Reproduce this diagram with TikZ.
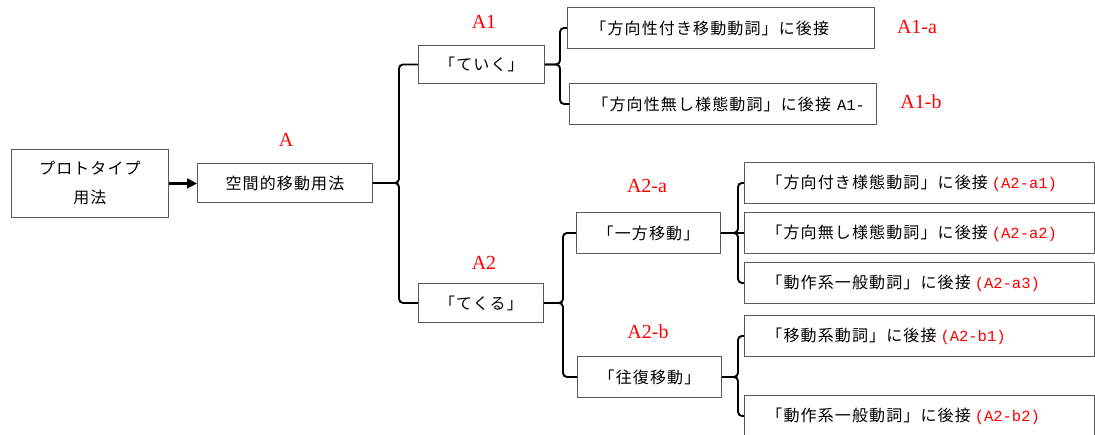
\documentclass[tikz,border=0pt]{standalone}
\usepackage{fontspec}
\setmainfont{Noto Sans CJK JP}
\newfontfamily\jpf{Noto Sans CJK JP}[LetterSpace=7]
\newfontfamily\redf{Liberation Serif}
\newfontfamily\monof{Liberation Mono}
\usetikzlibrary{arrows.meta}
\tikzset{
  box/.style={draw=black!65, line width=0.9pt, inner sep=0pt, anchor=north west,
    font=\jpf\fontsize{16}{29}\selectfont, align=center},
  lbox/.style={box, inner xsep=#1, align=left},
  brk/.style={line width=1.9pt, rounded corners=4pt},
  lab/.style={text=red, font=\redf\fontsize{20}{24}\selectfont, inner sep=0pt}
}
\newcommand{\redmono}[1]{{\monof\fontsize{15.5}{18}\selectfont\color{red}#1}}
\newcommand{\blkmono}[1]{{\monof\fontsize{15.5}{18}\selectfont #1}}
\begin{document}
\begin{tikzpicture}[x=1pt,y=-1pt]
\useasboundingbox (0,0) rectangle (1095,434);
\clip (0,0) rectangle (1095,434);
% nodes
\node[box, minimum width=157pt, minimum height=68pt] (p) at (11,149) {\raisebox{-4pt}{\parbox{150pt}{\centering プロトタイプ\\用法}}};
\node[box, minimum width=175pt, minimum height=39pt] (k) at (197,163) {空間的移動用法};
\node[box, minimum width=126pt, minimum height=38pt] (t1) at (418,45) {「ていく」};
\node[box, minimum width=125pt, minimum height=39pt] (t2) at (418,283) {「てくる」};
\node[lbox=23pt, text width=261pt, minimum height=41pt] (a) at (567,7) {\mbox{「方向性付き移動動詞」に後接}};
\node[lbox=23pt, text width=261pt, minimum height=41pt] (b) at (569,83) {\mbox{「方向性無し様態動詞」に後接\hspace{6pt}\blkmono{A1-}}};
\node[box, minimum width=144pt, minimum height=41pt] (m1) at (576,212) {「一方移動」};
\node[box, minimum width=144pt, minimum height=41pt] (m2) at (577,356) {「往復移動」};
\node[lbox=22pt, text width=306pt, minimum height=41pt] (r1) at (744,162) {\mbox{「方向付き様態動詞」に後接\hspace{4pt}\redmono{(A2-a1)}}};
\node[lbox=22pt, text width=306pt, minimum height=41pt] (r2) at (744,212) {\mbox{「方向無し様態動詞」に後接\hspace{4pt}\redmono{(A2-a2)}}};
\node[lbox=22pt, text width=306pt, minimum height=41pt] (r3) at (744,262) {\mbox{「動作系一般動詞」に後接\hspace{4pt}\redmono{(A2-a3)}}};
\node[lbox=22pt, text width=306pt, minimum height=41pt] (r4) at (744,315) {\mbox{「移動系動詞」に後接\hspace{4pt}\redmono{(A2-b1)}}};
\node[lbox=22pt, text width=306pt, minimum height=41pt] (r5) at (744,395) {\mbox{「動作系一般動詞」に後接\hspace{4pt}\redmono{(A2-b2)}}};
% labels
\node[lab] (lA) at (286,140) {A};
\node[lab] (lA1) at (484,22) {A1};
\node[lab] (lA1a) at (917,27) {A1-a};
\node[lab] (lA1b) at (921,102) {A1-b};
\node[lab] (lA2) at (484,263) {A2};
\node[lab] (lA2a) at (647,186) {A2-a};
\node[lab] (lA2b) at (648,332) {A2-b};
% connectors
\draw[line width=2.2pt, -{Triangle[length=10pt,width=10pt]}] (p.east) -- (p.east -| k.west);
\coordinate (v1) at (399,0);
\coordinate (v2) at (560,0);
\coordinate (v3) at (563,0);
\coordinate (v4) at (738,0);
\draw[brk] (k.east) -| (v1 |- t1.west) -- (t1.west);
\draw[brk] (k.east) -| (v1 |- t2.west) -- (t2.west);
\draw[brk] (t1.east) -| (v2 |- a.west) -- (a.west);
\draw[brk] (t1.east) -| (v2 |- b.west) -- (b.west);
\draw[brk] (t2.east) -| (v3 |- m1.west) -- (m1.west);
\draw[brk] (t2.east) -| (v3 |- m2.west) -- (m2.west);
\draw[brk] (m1.east) -| (v4 |- r1.west) -- (r1.west);
\draw[brk] (m1.east) -| (v4 |- r3.west) -- (r3.west);
\draw[brk] (m1.east) -- (r2.west);
\draw[brk] (m2.east) -| (v4 |- r4.west) -- (r4.west);
\draw[brk] (m2.east) -| (v4 |- r5.west) -- (r5.west);
\end{tikzpicture}
\end{document}
